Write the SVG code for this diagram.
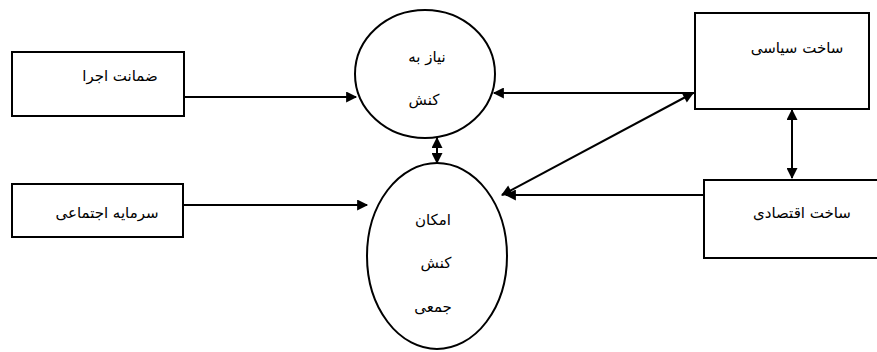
<svg xmlns="http://www.w3.org/2000/svg" width="877" height="352" viewBox="0 0 877 352">
<style>
.box{fill:#fff;stroke:#000;stroke-width:2}
.el{fill:#fff;stroke:#000;stroke-width:2}
.t{font-family:"DejaVu Sans",sans-serif;font-size:15px;fill:#000;text-anchor:middle}
.c{stroke:#000;stroke-width:2;fill:none}
</style>
<defs>
<marker id="a" viewBox="0 0 10 10" refX="9" refY="5" markerWidth="12" markerHeight="11" orient="auto-start-reverse" markerUnits="userSpaceOnUse">
<path d="M0,0 L10,5 L0,10 z" fill="#000"/>
</marker>
</defs>
<rect width="877" height="352" fill="#fff"/>
<g id="connectors">
<line class="c" x1="184" y1="97" x2="356" y2="97" marker-end="url(#a)"/>
<line class="c" x1="183" y1="205" x2="367" y2="205" marker-end="url(#a)"/>
<line class="c" x1="695" y1="93" x2="494" y2="93" marker-end="url(#a)"/>
<line class="c" x1="693" y1="93" x2="502" y2="195" marker-start="url(#a)" marker-end="url(#a)"/>
<line class="c" x1="704" y1="195" x2="506" y2="195" marker-end="url(#a)"/>
<line class="c" x1="792" y1="110" x2="792" y2="178" marker-start="url(#a)" marker-end="url(#a)"/>
<line class="c" x1="437" y1="138" x2="437" y2="163" marker-start="url(#a)" marker-end="url(#a)"/>
</g>
<g id="n1"><rect class="box" x="12" y="52" width="172" height="64"/><text class="t" x="120" y="81">ضمانت اجرا</text></g>
<g id="n2"><rect class="box" x="12" y="184" width="171" height="53"/><text class="t" x="107" y="218">سرمایه اجتماعی</text></g>
<g id="n3"><ellipse class="el" cx="425" cy="74" rx="70" ry="64"/><text class="t" x="427" y="62">نیاز به</text><text class="t" x="424" y="105">کنش</text></g>
<g id="n4"><ellipse class="el" cx="437" cy="256" rx="70" ry="93"/><text class="t" x="433" y="225">امکان</text><text class="t" x="436" y="268">کنش</text><text class="t" x="433" y="312">جمعی</text></g>
<g id="n5"><rect class="box" x="695" y="13" width="174" height="96"/><text class="t" x="797" y="53">ساخت سیاسی</text></g>
<g id="n6"><rect class="box" x="704" y="180" width="180" height="78"/><text class="t" x="802" y="218">ساخت اقتصادی</text></g>
</svg>
